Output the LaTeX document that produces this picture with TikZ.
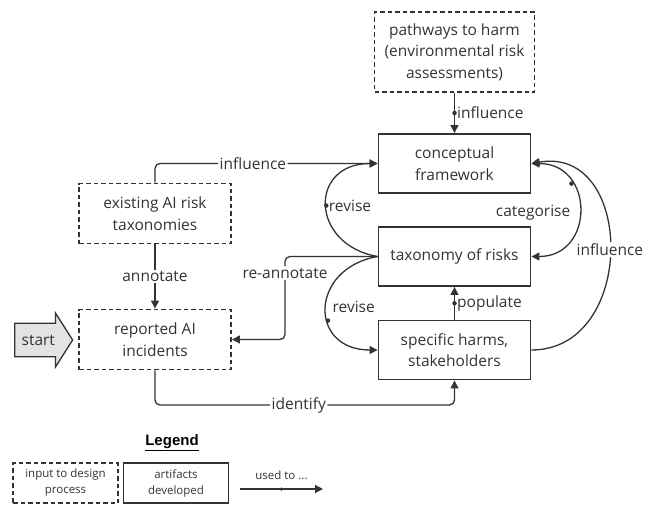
\documentclass[tikz,border=0pt]{standalone}
\usepackage{fontspec}
\setmainfont{Open Sans}
\newfontfamily\legendfont{Liberation Sans}
\usetikzlibrary{arrows.meta,shapes.arrows}
\definecolor{ink}{HTML}{333333}
\tikzset{
>={Triangle[length=8pt,width=8pt]}, % filled arrow heads
conn/.style={->, draw=ink, line width=1.3pt}, % connectors between boxes
inputbox/.style={draw=ink, line width=1.9pt, dash pattern=on 4.5pt off 3pt, minimum width=152pt, minimum height=60pt, align=center, text=ink}, % inputs to the design process
artifact/.style={draw=ink, line width=1.9pt, minimum width=152pt, minimum height=59pt, align=center, text=ink}, % artifacts developed
dotmark/.style={circle, fill=ink, inner sep=0pt, minimum size=4.5pt}, % small dot on a connector
lbl/.style={fill=white, inner sep=1.5pt, text=ink}, % label sitting on a line
startarrow/.style={single arrow, draw=ink, line width=1.3pt, fill=gray!22, text=ink, minimum height=58pt, inner xsep=4pt, inner ysep=11pt, single arrow head extend=10pt, single arrow tip angle=115, single arrow head indent=0pt},
}

\begin{document}
\begin{tikzpicture}[x=1pt, y=-1pt, font=\fontsize{15.5}{21.5}\selectfont]
	\useasboundingbox (0,0) rectangle (670,506);
	% boxes
	\node[inputbox, minimum width=160pt, minimum height=80pt] (path) at (454.5,52) {pathways to harm\\(environmental risk\\assessments)};
	\node[artifact] (frame) at (454.5,163.5) {conceptual\\framework};
	\node[artifact] (tax) at (454.5,256.5) {taxonomy of risks};
	\node[artifact] (harm) at (454.5,350) {specific harms,\\stakeholders};
	\node[inputbox] (exist) at (155,213.5) {existing AI risk\\taxonomies};
	\node[inputbox] (rep) at (155,339.5) {reported AI\\incidents};
	\node[startarrow, anchor=tail] (start) at (14,340) {start};
	\coordinate (bendA) at (285,339.5);
	\coordinate (bendB) at (454.5,405);

	% connectors
	\draw[conn] (path) -- node[dotmark] {} node[right, text=ink, inner sep=2pt] {influence} (frame);
	\draw[conn, rounded corners=5pt] (exist.north) |- node[lbl, pos=0.72] {influence} (frame.west);
	\draw[conn] (exist) -- node[lbl] {annotate} (rep);
	\draw[conn, rounded corners=5pt] (tax.west) -| node[lbl, pos=0.6] {re-annotate} (bendA) -- (rep.east);
	\draw[conn, rounded corners=5pt] (rep.south) |- node[lbl, pos=0.74] {identify} (bendB) -- (harm.south);
	\draw[conn] (tax.west) to[out=170, in=180, looseness=1.9] node[dotmark] {} node[right, text=ink, inner sep=2pt] {revise} (frame.west);
	\draw[conn] (tax.west) to[out=190, in=180, looseness=1.9] node[dotmark, pos=0.6] {} node[pos=0.6, anchor=south west, xshift=3pt, yshift=6pt, text=ink, inner sep=1pt] {revise} (harm.west);
	\draw[conn, <->] (frame.east) to[out=0, in=0, looseness=1.75] node[dotmark, pos=0.3] {} node[pos=0.52, left, text=ink, inner sep=8pt] {categorise} (tax.east);
	\draw[conn] (harm.east) to[out=0, in=10, looseness=1.45] node[lbl] {influence} (frame.east);
	\draw[conn] (harm) -- node[dotmark] {} node[right, text=ink, inner sep=2pt] {populate} (tax);

	% legend
	\node[font=\legendfont\bfseries\fontsize{15}{18}\selectfont, text=black] (legend) at (172,443) {\underline{Legend}};
	\node[inputbox, minimum width=105pt, minimum height=40pt, font=\fontsize{11.5}{16}\selectfont] (key1) at (65.5,483) {input to design\\process};
	\node[artifact, minimum width=105pt, minimum height=40pt, font=\fontsize{11.5}{16}\selectfont] (key2) at (176,483) {artifacts\\developed};
	\coordinate (keyA) at (240,489);
	\coordinate (keyB) at (323,489);
	\draw[conn] (keyA) -- node[dotmark, minimum size=3.5pt] {} node[above=5pt, text=ink, font=\fontsize{11.5}{16}\selectfont] {used to ...} (keyB);
\end{tikzpicture}
\end{document}
